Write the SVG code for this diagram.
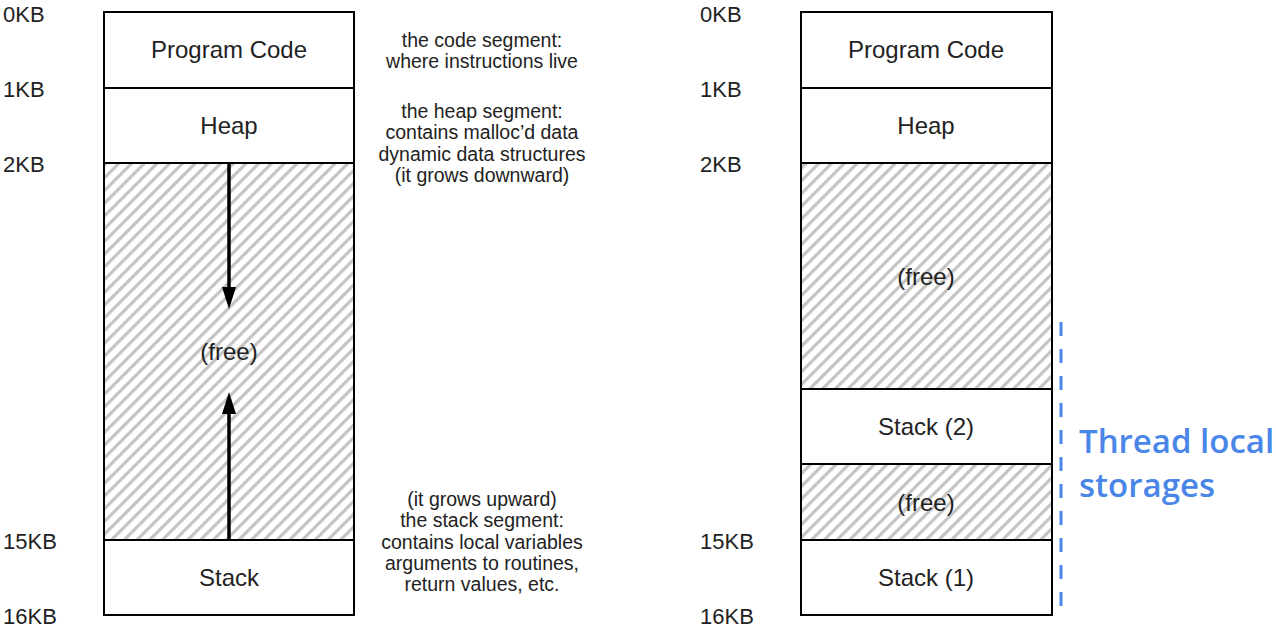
<svg xmlns="http://www.w3.org/2000/svg" width="1276" height="627" viewBox="0 0 1276 627">
<defs>
<pattern id="hatch" patternUnits="userSpaceOnUse" width="9" height="9" patternTransform="rotate(45)">
<rect width="9" height="9" fill="#ffffff"/>
<rect x="0" y="0" width="3.2" height="9" fill="#c4c4c4"/>
</pattern>
<marker id="ah" viewBox="0 0 22 14" refX="12" refY="7" markerWidth="22" markerHeight="14" orient="auto" markerUnits="userSpaceOnUse">
<path d="M0,0 L22,7 L0,14 z" fill="#000"/>
</marker>
</defs>
<style>
.box{fill:#fff;stroke:#000;stroke-width:2}
.free{fill:url(#hatch);stroke:#000;stroke-width:2}
.lbl{font-family:"Liberation Sans",Arial,sans-serif;font-size:24px;fill:#222;text-anchor:middle}
.kb{font-family:"Liberation Sans",Arial,sans-serif;font-size:22px;fill:#222}
.note{font-family:"Liberation Sans",Arial,sans-serif;font-size:19.5px;fill:#222;text-anchor:middle}
.blue{font-family:"Open Sans","Noto Sans",sans-serif;font-size:33px;font-weight:600;fill:#4a86e8}
</style>
<g id="left-memory">
<g id="l-code"><rect class="box" x="104" y="12" width="250" height="76"/><text class="lbl" x="229" y="58">Program Code</text></g>
<g id="l-heap"><rect class="box" x="104" y="88" width="250" height="75"/><text class="lbl" x="229" y="134">Heap</text></g>
<g id="l-free"><rect class="free" x="104" y="163" width="250" height="377"/><text class="lbl" x="229" y="360">(free)</text></g>
<g id="l-stack"><rect class="box" x="104" y="540" width="250" height="75"/><text class="lbl" x="229" y="586">Stack</text></g>
</g>
<g id="left-kb">
<text class="kb" x="3" y="22">0KB</text>
<text class="kb" x="3" y="97">1KB</text>
<text class="kb" x="3" y="172">2KB</text>
<text class="kb" x="3" y="549">15KB</text>
<text class="kb" x="3" y="624">16KB</text>
</g>
<g id="notes">
<text class="note" x="482" y="47">the code segment:</text>
<text class="note" x="482" y="68">where instructions live</text>
<text class="note" x="482" y="118">the heap segment:</text>
<text class="note" x="482" y="139">contains malloc’d data</text>
<text class="note" x="482" y="161">dynamic data structures</text>
<text class="note" x="482" y="182">(it grows downward)</text>
<text class="note" x="482" y="506">(it grows upward)</text>
<text class="note" x="482" y="527">the stack segment:</text>
<text class="note" x="482" y="549">contains local variables</text>
<text class="note" x="482" y="570">arguments to routines,</text>
<text class="note" x="482" y="591">return values, etc.</text>
</g>
<g id="connectors">
<line x1="229" y1="163" x2="229" y2="299" stroke="#000" stroke-width="3.5" marker-end="url(#ah)"/>
<line x1="229" y1="540" x2="229" y2="402" stroke="#000" stroke-width="3.5" marker-end="url(#ah)"/>
<line x1="1061" y1="322" x2="1061" y2="616" stroke="#4a86e8" stroke-width="3" stroke-dasharray="14,13"/>
</g>
<g id="right-memory">
<g id="r-code"><rect class="box" x="801" y="12" width="251" height="76"/><text class="lbl" x="926" y="58">Program Code</text></g>
<g id="r-heap"><rect class="box" x="801" y="88" width="251" height="75"/><text class="lbl" x="926" y="134">Heap</text></g>
<g id="r-free1"><rect class="free" x="801" y="163" width="251" height="226"/><text class="lbl" x="926" y="285">(free)</text></g>
<g id="r-stack2"><rect class="box" x="801" y="389" width="251" height="75"/><text class="lbl" x="926" y="435">Stack (2)</text></g>
<g id="r-free2"><rect class="free" x="801" y="464" width="251" height="76"/><text class="lbl" x="926" y="511">(free)</text></g>
<g id="r-stack1"><rect class="box" x="801" y="540" width="251" height="75"/><text class="lbl" x="926" y="586">Stack (1)</text></g>
</g>
<g id="right-kb">
<text class="kb" x="700" y="22">0KB</text>
<text class="kb" x="700" y="97">1KB</text>
<text class="kb" x="700" y="172">2KB</text>
<text class="kb" x="700" y="549">15KB</text>
<text class="kb" x="700" y="624">16KB</text>
</g>
<g id="tls-label">
<text class="blue" x="1079" y="453">Thread local</text>
<text class="blue" x="1079" y="497">storages</text>
</g>
</svg>
